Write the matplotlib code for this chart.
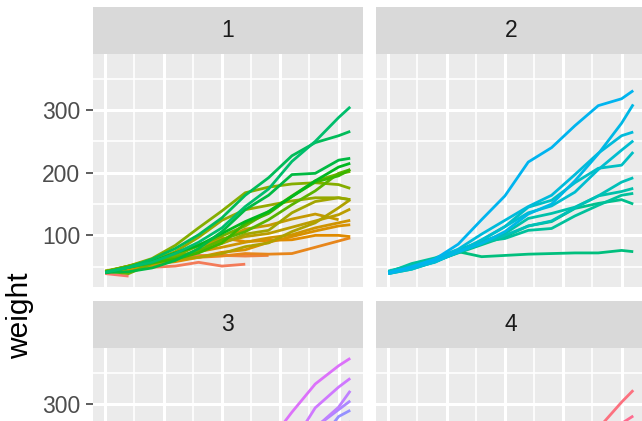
import numpy as np
import matplotlib
matplotlib.use("Agg")
import matplotlib.pyplot as plt
from matplotlib.ticker import MultipleLocator

plt.rcParams['font.family'] = ['Liberation Sans', 'DejaVu Sans']

# ChickWeight: weight by chick, measured at these days
times = [0, 2, 4, 6, 8, 10, 12, 14, 16, 18, 20, 21]

diet1 = {
    1: [42, 51, 59, 64, 76, 93, 106, 125, 149, 171, 199, 205],
    2: [40, 49, 58, 72, 84, 103, 122, 138, 162, 187, 209, 215],
    3: [43, 39, 55, 67, 84, 99, 115, 138, 163, 187, 198, 202],
    4: [42, 49, 56, 67, 74, 87, 102, 108, 136, 154, 160, 157],
    5: [41, 42, 48, 60, 79, 106, 141, 164, 197, 199, 220, 223],
    6: [41, 49, 59, 74, 97, 124, 141, 148, 155, 160, 160, 157],
    7: [41, 49, 57, 71, 89, 112, 146, 174, 218, 250, 288, 305],
    8: [42, 50, 61, 71, 84, 93, 110, 116, 126, 134, 125],
    9: [42, 51, 59, 68, 85, 96, 90, 92, 93, 100, 100, 98],
    10: [41, 44, 52, 63, 74, 81, 89, 96, 101, 112, 120, 124],
    11: [43, 51, 63, 84, 112, 139, 168, 177, 182, 184, 181, 175],
    12: [41, 49, 56, 62, 72, 88, 119, 135, 162, 185, 195, 205],
    13: [41, 48, 53, 60, 65, 67, 71, 70, 71, 81, 91, 96],
    14: [41, 49, 62, 79, 101, 128, 164, 192, 227, 248, 259, 266],
    15: [41, 49, 56, 64, 68, 68, 67, 68],
    16: [41, 45, 49, 51, 57, 51, 54],
    17: [42, 51, 61, 72, 83, 89, 98, 103, 113, 123, 133, 142],
    18: [39, 35],
    19: [43, 48, 55, 62, 65, 71, 82, 88, 106, 120, 144, 157],
    20: [41, 47, 54, 58, 65, 73, 77, 89, 98, 107, 115, 117],
}
diet2 = {
    21: [40, 50, 62, 86, 125, 163, 217, 240, 275, 307, 318, 331],
    22: [41, 55, 64, 77, 90, 95, 108, 111, 131, 148, 164, 167],
    23: [43, 52, 61, 73, 90, 103, 127, 135, 145, 163, 170, 175],
    24: [42, 52, 58, 74, 66, 68, 70, 71, 72, 72, 76, 74],
    25: [40, 49, 62, 78, 102, 124, 146, 164, 197, 231, 259, 265],
    26: [42, 48, 57, 74, 93, 114, 136, 147, 169, 205, 236, 251],
    27: [39, 46, 58, 73, 87, 100, 115, 123, 144, 163, 185, 192],
    28: [39, 46, 58, 73, 92, 114, 145, 156, 184, 207, 212, 233],
    29: [39, 48, 59, 74, 87, 106, 134, 150, 187, 230, 279, 309],
    30: [42, 48, 59, 72, 85, 98, 115, 122, 143, 151, 157, 150],
}
diet3 = {
    31: [42, 53, 62, 73, 85, 102, 123, 138, 170, 204, 235, 256],
    32: [41, 49, 65, 82, 107, 129, 159, 179, 221, 263, 291, 305],
    33: [39, 50, 63, 77, 96, 111, 137, 144, 151, 146, 156, 147],
    34: [41, 49, 63, 85, 107, 134, 164, 186, 235, 294, 327, 341],
    35: [41, 53, 64, 87, 123, 158, 201, 238, 287, 332, 361, 373],
    36: [39, 48, 61, 76, 98, 116, 145, 166, 198, 227, 225, 220],
    37: [41, 48, 56, 68, 80, 83, 103, 112, 135, 157, 169, 178],
    38: [41, 49, 61, 74, 98, 109, 128, 154, 192, 232, 280, 290],
    39: [42, 50, 61, 78, 89, 109, 130, 146, 170, 214, 250, 272],
    40: [41, 55, 66, 79, 101, 120, 154, 182, 215, 262, 295, 321],
}
diet4 = {
    41: [42, 51, 66, 85, 103, 124, 155, 153, 175, 184, 199, 204],
    42: [42, 49, 63, 84, 103, 126, 160, 174, 204, 234, 269, 281],
    43: [42, 55, 69, 96, 131, 157, 184, 188, 197, 198, 199, 200],
    44: [42, 51, 65, 86, 103, 118, 127, 138, 145, 146],
    45: [41, 50, 61, 78, 98, 117, 135, 141, 147, 174, 197, 196],
    46: [40, 52, 62, 82, 101, 120, 144, 156, 173, 210, 231, 238],
    47: [41, 53, 66, 79, 100, 123, 148, 157, 168, 185, 210, 205],
    48: [39, 50, 62, 80, 104, 125, 154, 170, 222, 261, 303, 322],
    49: [40, 53, 64, 85, 108, 128, 152, 166, 184, 203, 233, 237],
    50: [41, 54, 67, 84, 105, 122, 155, 175, 205, 234, 264, 264],
}
diets = [diet1, diet2, diet3, diet4]
diet_labels = ["1", "2", "3", "4"]

# factor level order of Chick (decides colour and drawing order)
chick_levels = [18, 16, 15, 13, 9, 20, 10, 8, 17, 19, 4, 6, 11, 3, 1, 12, 2, 5, 14, 7,
                24, 30, 22, 23, 27, 28, 26, 25, 29, 21, 33, 37, 36, 31, 39, 38, 32, 40, 34, 35,
                44, 45, 43, 41, 47, 49, 46, 50, 42, 48]


def hcl_to_hex(h, c=100.0, l=65.0):
    Xn, Yn, Zn = 95.047, 100.0, 108.883
    hr = np.deg2rad(h)
    U, V = c * np.cos(hr), c * np.sin(hr)
    Y = Yn * ((l + 16) / 116) ** 3
    un = 4 * Xn / (Xn + 15 * Yn + 3 * Zn)
    vn = 9 * Yn / (Xn + 15 * Yn + 3 * Zn)
    u = U / (13 * l) + un
    v = V / (13 * l) + vn
    X = 9.0 * Y * u / (4 * v)
    Z = -X / 3 - 5 * Y + 3 * Y / v
    X, Y, Z = X / 100, Y / 100, Z / 100
    rgb = [3.240479 * X - 1.537150 * Y - 0.498535 * Z,
           -0.969256 * X + 1.875992 * Y + 0.041556 * Z,
           0.055648 * X - 0.204043 * Y + 1.057311 * Z]
    out = []
    for t in rgb:
        t = 12.92 * t if t <= 0.0031308 else 1.055 * t ** (1 / 2.4) - 0.055
        out.append(min(max(t, 0.0), 1.0))
    return '#%02X%02X%02X' % tuple(int(round(t * 255)) for t in out)


n = len(chick_levels)
hues = np.linspace(15, 375, n + 1)[:n]
colours = {ch: hcl_to_hex(hues[i]) for i, ch in enumerate(chick_levels)}

W, H = 642, 421
fig = plt.figure(figsize=(W / 100, H / 100), dpi=100)


def px_axes(left, top, width, height):
    return fig.add_axes([left / W, 1 - (top + height) / H, width / W, height / H])


col_left = [93, 376]
row_top = [53.7, 347.7]
pw, ph = 269.5, 233.0
strip_h = 46.7

for k, diet in enumerate(diets):
    r, c = divmod(k, 2)
    ax = px_axes(col_left[c], row_top[r], pw, ph)
    ax.set_facecolor('#EBEBEB')
    for s in ax.spines.values():
        s.set_visible(False)
    ax.set_xlim(-1.05, 22.05)
    ax.set_ylim(18.1, 389.9)
    ax.xaxis.set_major_locator(MultipleLocator(5))
    ax.xaxis.set_minor_locator(MultipleLocator(2.5))
    ax.yaxis.set_major_locator(MultipleLocator(100))
    ax.yaxis.set_minor_locator(MultipleLocator(50))
    ax.set_axisbelow(True)
    ax.grid(which='major', color='white', lw=2.2)
    ax.grid(which='minor', color='white', lw=1.2)
    ax.tick_params(which='minor', length=0)
    ax.tick_params(axis='x', which='major', length=0, labelbottom=False)
    if c == 0:
        ax.tick_params(axis='y', which='major', length=5, width=1.1, color='#333333',
                       labelsize=16.5, labelcolor='#4D4D4D', pad=4)
        ax.set_yticks([100, 200, 300])
        if r == 1:
            # the lower labels of this row fall below the cropped canvas
            ax.set_yticklabels(['', '', '300'])
    else:
        ax.tick_params(axis='y', which='major', length=0, labelleft=False)

    for ch in chick_levels:
        if ch in diet:
            w = diet[ch]
            ax.plot(times[:len(w)], w, color=colours[ch], lw=2.0, solid_capstyle='butt')

    sax = px_axes(col_left[c], row_top[r] - strip_h, pw, strip_h)
    sax.set_facecolor('#D9D9D9')
    for s in sax.spines.values():
        s.set_visible(False)
    sax.set_xticks([])
    sax.set_yticks([])
    sax.text(0.5, 0.5, diet_labels[k], ha='center', va='center', fontsize=16.5,
             color='#1A1A1A', transform=sax.transAxes)

fig.text(20 / W, 1 - 316 / H, 'weight', rotation=90, ha='center', va='center',
         fontsize=21.5, color='black')

fig.savefig('out.png', dpi=100)
